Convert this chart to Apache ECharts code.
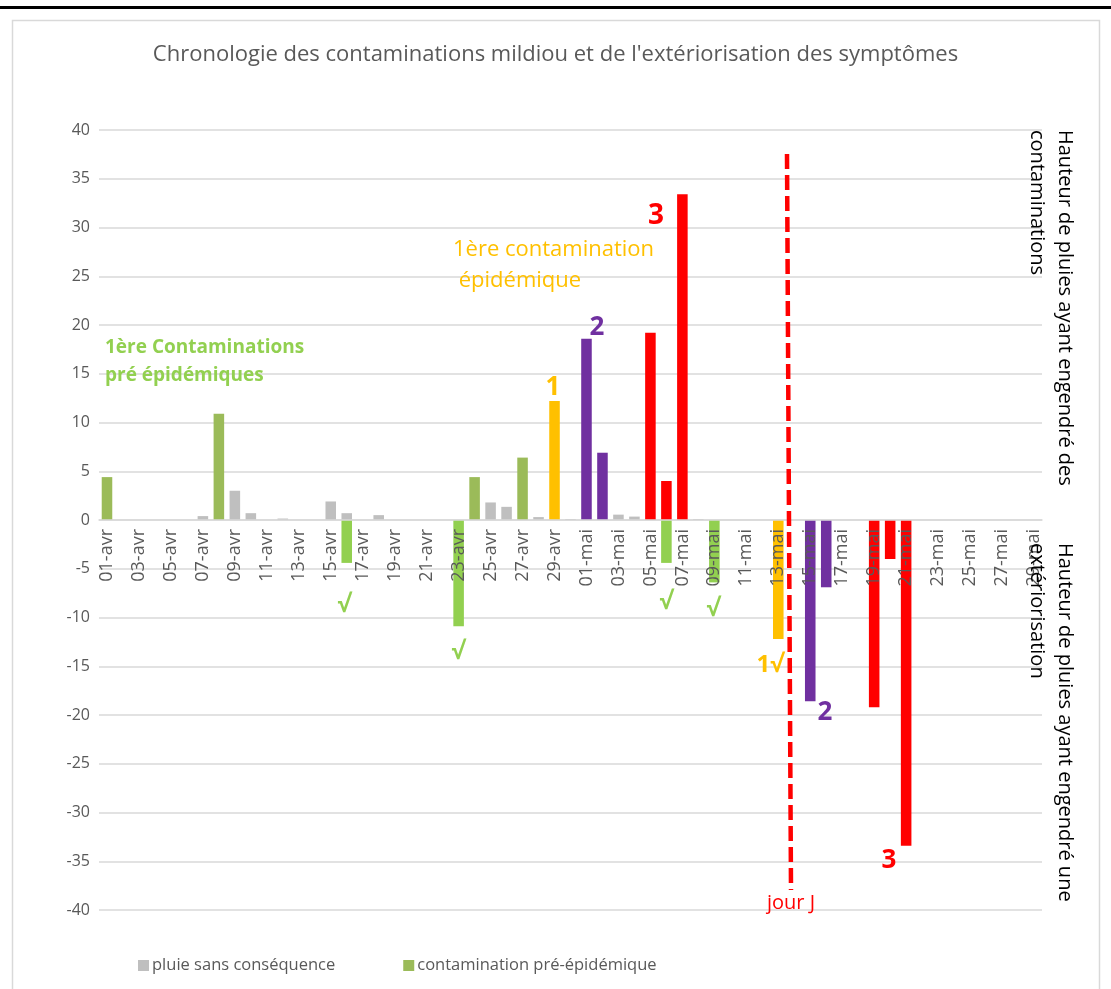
<!DOCTYPE html>
<html>
<head>
<meta charset="utf-8">
<script src="https://cdn.jsdelivr.net/npm/echarts@6/dist/echarts.min.js"></script>
<style>html,body{margin:0;padding:0;background:#fff}#c{width:1111px;height:989px}</style>
</head>
<body>
<div id="c"></div>
<script>
const categories = [
 '01-avr','02-avr','03-avr','04-avr','05-avr','06-avr','07-avr','08-avr','09-avr','10-avr',
 '11-avr','12-avr','13-avr','14-avr','15-avr','16-avr','17-avr','18-avr','19-avr','20-avr',
 '21-avr','22-avr','23-avr','24-avr','25-avr','26-avr','27-avr','28-avr','29-avr','30-avr',
 '01-mai','02-mai','03-mai','04-mai','05-mai','06-mai','07-mai','08-mai','09-mai','10-mai',
 '11-mai','12-mai','13-mai','14-mai','15-mai','16-mai','17-mai','18-mai','19-mai','20-mai',
 '21-mai','22-mai','23-mai','24-mai','25-mai','26-mai','27-mai','28-mai','29-mai'
];
const yTicks = { min: -40, max: 40, step: 5 };

// positive: rain amounts that caused contaminations
const rainNoEffect = [['07-avr',0.4],['09-avr',3.0],['10-avr',0.7],['12-avr',0.15],['15-avr',1.9],['16-avr',0.7],['18-avr',0.5],['25-avr',1.8],['26-avr',1.35],['28-avr',0.3],['30-avr',0.1],['03-mai',0.55],['04-mai',0.35],['08-mai',0.1]];
const preEpidemic = [['01-avr',4.4],['08-avr',10.9],['24-avr',4.4],['27-avr',6.4]];
const contam1 = [['29-avr',12.2]];
const contam2 = [['01-mai',18.6],['02-mai',6.9]];
const contam3 = [['05-mai',19.2],['06-mai',4.0],['07-mai',33.4]];
// negative: rain amounts linked to symptom exteriorisation
const preEpidemicOut = [['16-avr',-4.4],['23-avr',-10.9],['06-mai',-4.4],['09-mai',-6.4]];
const out1 = [['13-mai',-12.2]];
const out2 = [['15-mai',-18.6],['16-mai',-6.9]];
const out3 = [['19-mai',-19.2],['20-mai',-4.0],['21-mai',-33.4]];

const FONT = 'Open Sans';
function bar(name, data, color) {
  return { name, type: 'bar', data, barWidth: '66%', barGap: '-100%', itemStyle: { color }, z: 2 };
}
function txt(x, y, text, color, size, weight, align) {
  return { type: 'text', x, y, z: 20, style: { text, fill: color, font: (weight || 'normal') + ' ' + size + 'px "' + FONT + '"', align: align || 'center', verticalAlign: 'middle' } };
}
function vtxt(x, y, text) {
  return { type: 'text', x, y, rotation: -Math.PI / 2, z: 20, style: { text, fill: '#000', font: '20px "' + FONT + '"', align: 'left', verticalAlign: 'middle' } };
}

const chart = echarts.init(document.getElementById('c'), null, { renderer: 'canvas' });
chart.setOption({
  animation: false,
  backgroundColor: '#ffffff',
  textStyle: { fontFamily: FONT },
  title: { text: 'Chronologie des contaminations mildiou et de l\'extériorisation des symptômes', left: 'center', top: 39,
    textStyle: { fontFamily: FONT, fontSize: 22, fontWeight: 'normal', color: '#595959' } },
  legend: { data: ['pluie sans conséquence', 'contamination pré-épidémique'], left: 133, top: 952, icon: 'rect', itemWidth: 11, itemHeight: 11, itemGap: 68,
    textStyle: { fontFamily: FONT, fontSize: 16.5, color: '#595959', padding: [0, 0, 0, -2] } },
  grid: { left: 99, right: 69, top: 130, bottom: 79, containLabel: false },
  xAxis: { type: 'category', data: categories, z: 10, position: 'bottom', offset: -390,
    axisLine: { onZero: false, lineStyle: { color: '#D9D9D9', width: 1.5 } },
    axisTick: { interval: 1, length: 5, lineStyle: { color: '#D9D9D9' } },
    axisLabel: { interval: 1, rotate: 90, margin: 9, fontSize: 18, color: '#595959', fontFamily: FONT },
    splitLine: { show: false } },
  yAxis: { type: 'value', min: yTicks.min, max: yTicks.max, interval: yTicks.step, z: 0,
    axisLine: { show: false }, axisTick: { show: false },
    axisLabel: { fontSize: 16, color: '#595959', margin: 9, fontFamily: FONT },
    splitLine: { lineStyle: { color: '#D9D9D9', width: 1.5 } } },
  series: [
    bar('pluie sans conséquence', rainNoEffect, '#BFBFBF'),
    bar('contamination pré-épidémique', preEpidemic, '#9BBB59'),
    bar('contamination 1', contam1, '#FFC000'),
    bar('contamination 2', contam2, '#7030A0'),
    bar('contamination 3', contam3, '#FF0000'),
    bar('extériorisation pré-épidémique', preEpidemicOut, '#92D050'),
    bar('extériorisation 1', out1, '#FFC000'),
    bar('extériorisation 2', out2, '#7030A0'),
    bar('extériorisation 3', out3, '#FF0000')
  ],
  graphic: [
    { type: 'rect', z: 0, shape: { x: 0, y: 6, width: 1111, height: 3 }, style: { fill: '#000' } },
    { type: 'rect', z: 0, shape: { x: 12.5, y: 20.5, width: 1087, height: 1000 }, style: { fill: 'none', stroke: '#D9D9D9', lineWidth: 1.5 } },
    { type: 'line', z: 15, shape: { x1: 787, y1: 154, x2: 791, y2: 890 }, style: { stroke: '#FF0000', lineWidth: 4.5, lineDash: [15, 6] } },
    txt(791, 903, 'jour J', '#FF0000', 20),
    vtxt(1065, 130, 'Hauteur de pluies ayant engendré des'),
    vtxt(1037, 130, 'contaminations'),
    vtxt(1065, 543, 'Hauteur de pluies ayant engendré une'),
    vtxt(1037, 543, 'extériorisation'),
    txt(105, 348, '1ère Contaminations', '#92D050', 19, 'bold', 'left'),
    txt(105, 376, 'pré épidémiques', '#92D050', 19, 'bold', 'left'),
    txt(453, 250, '1ère contamination', '#FFC000', 22, 'normal', 'left'),
    txt(453, 281, ' épidémique', '#FFC000', 22, 'normal', 'left'),
    txt(553, 388, '1', '#FFC000', 26, 'bold'),
    txt(597, 328, '2', '#7030A0', 26, 'bold'),
    txt(656, 216, '3', '#FF0000', 28, 'bold'),
    txt(344, 605, '√', '#92D050', 24, 'bold'),
    txt(458, 652, '√', '#92D050', 24, 'bold'),
    txt(666, 602, '√', '#92D050', 24, 'bold'),
    txt(713, 609, '√', '#92D050', 24, 'bold'),
    txt(770, 665, '1√', '#FFC000', 24, 'bold'),
    txt(825, 713, '2', '#7030A0', 26, 'bold'),
    txt(889, 861, '3', '#FF0000', 26, 'bold')
  ]
});
</script>
</body>
</html>
